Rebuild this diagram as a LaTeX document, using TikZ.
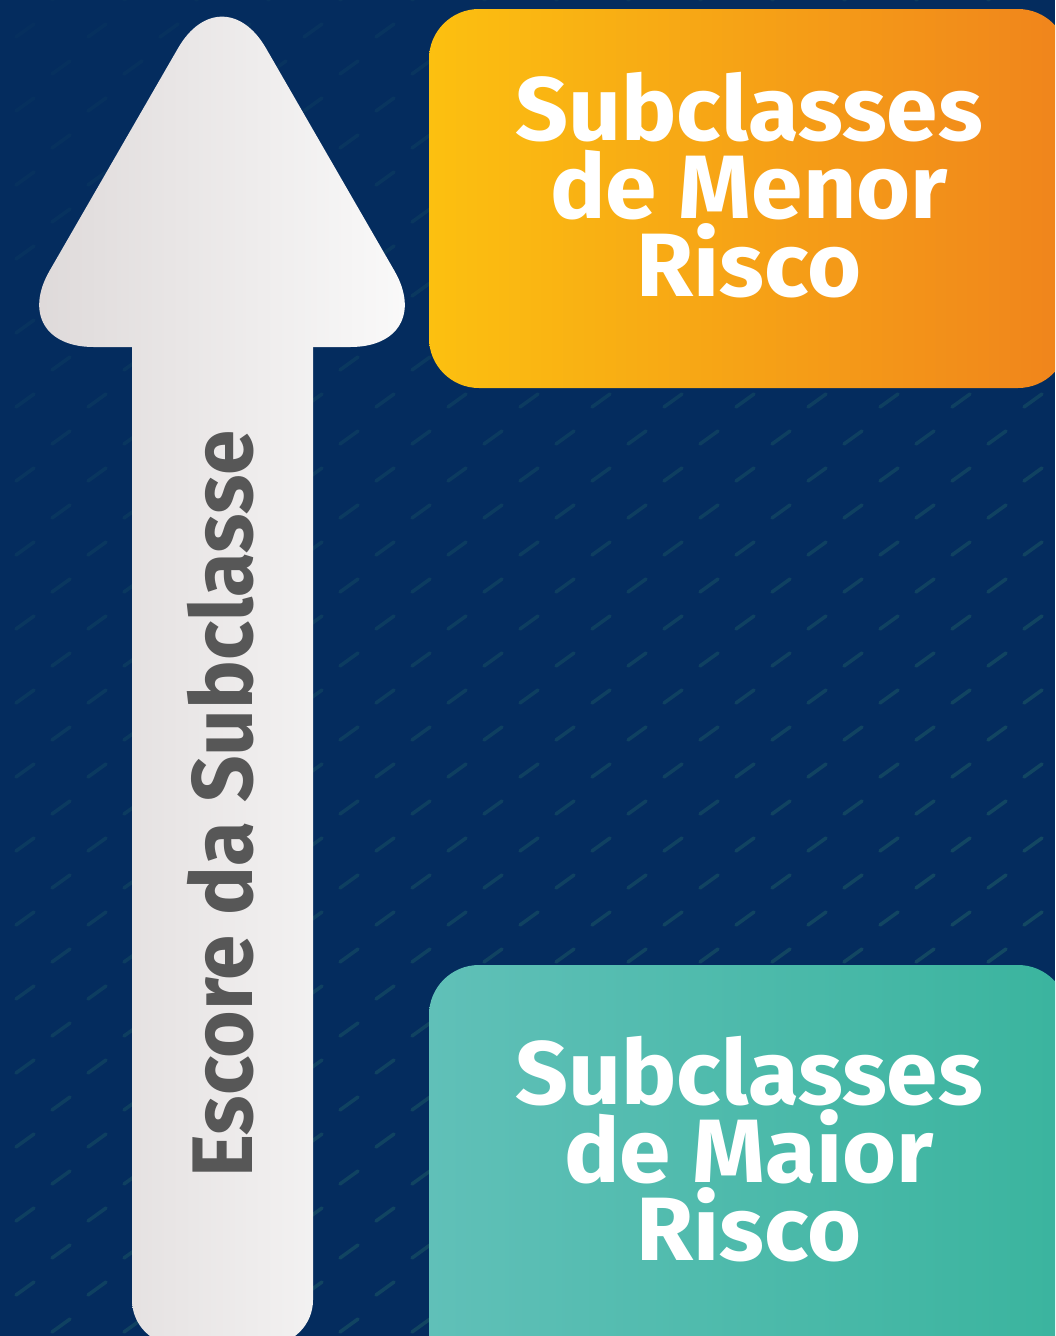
\documentclass[tikz,border=0pt]{standalone}
\usepackage{fontspec}
\setmainfont{Fira Sans}
\newfontfamily\axisfont{Fira Sans}[FakeStretch=0.95]
\newfontfamily\boxfont{Fira Sans}[FakeStretch=1.03]
\definecolor{bgnavy}{RGB}{4,44,94}
\definecolor{texstroke}{RGB}{26,84,100}
\definecolor{arrowL}{RGB}{220,215,215}
\definecolor{arrowR}{RGB}{252,252,252}
\definecolor{orangeL}{RGB}{252,192,16}
\definecolor{orangeR}{RGB}{240,132,28}
\definecolor{tealL}{RGB}{96,192,184}
\definecolor{tealR}{RGB}{58,180,158}
\definecolor{axisgray}{RGB}{87,87,87}
\tikzset{
  boxtext/.style={text=white, align=center, inner sep=0pt,
    font=\boxfont\fontsize{90}{78}\selectfont\bfseries},
  axistext/.style={text=axisgray, inner sep=0pt,
    font=\axisfont\fontsize{86}{90}\selectfont\bfseries},
  texmark/.style={draw=texstroke, line width=3.5pt, line cap=round}
}
\begin{document}
\begin{tikzpicture}[x=1pt,y=-1pt]
\useasboundingbox (0,0) rectangle (1055,1336);
\clip (0,0) rectangle (1055,1336);
% background
\fill[bgnavy] (0,0) rectangle (1055,1336);
% faint diagonal texture, stronger towards the lower right
\foreach \r in {0,...,37}{
  \foreach \c in {0,...,15}{
    \pgfmathsetmacro{\xx}{\c*72 + mod(\r,2)*36 - 20}
    \pgfmathsetmacro{\yy}{\r*37}
    \pgfmathsetmacro{\op}{min(0.8,0.08+0.75*(\xx+\yy)/2300)}
    \draw[texmark, opacity=\op] (\xx,\yy) -- ++(18,-13);
  }
}
% arrow head
\begin{scope}
  \clip[rounded corners=88pt] (5.6,347) -- (222,-28) -- (438.4,347) -- cycle;
  \shade[left color=arrowL, right color=arrowR] (5,-40) rectangle (440,1350);
\end{scope}
% arrow shaft
\begin{scope}
  \clip[rounded corners=45pt] (132,150) rectangle (313,1345);
  \shade[left color=arrowL, right color=arrowR] (5,-40) rectangle (440,1350);
\end{scope}
% boxes
\shade[left color=orangeL, right color=orangeR, rounded corners=50pt] (429,9) rectangle (1068,388);
\shade[left color=tealL, right color=tealR, rounded corners=50pt] (429,965) rectangle (1068,1400);
% texts
\node[boxtext, anchor=north] (menor) at (749,72) {Subclasses\\de Menor\\Risco};
\node[boxtext, anchor=north] (maior) at (749,1036) {Subclasses\\de Maior\\Risco};
\node[axistext, rotate=90, anchor=base] (escore) at (252,804) {Escore da Subclasse};
\end{tikzpicture}
\end{document}
